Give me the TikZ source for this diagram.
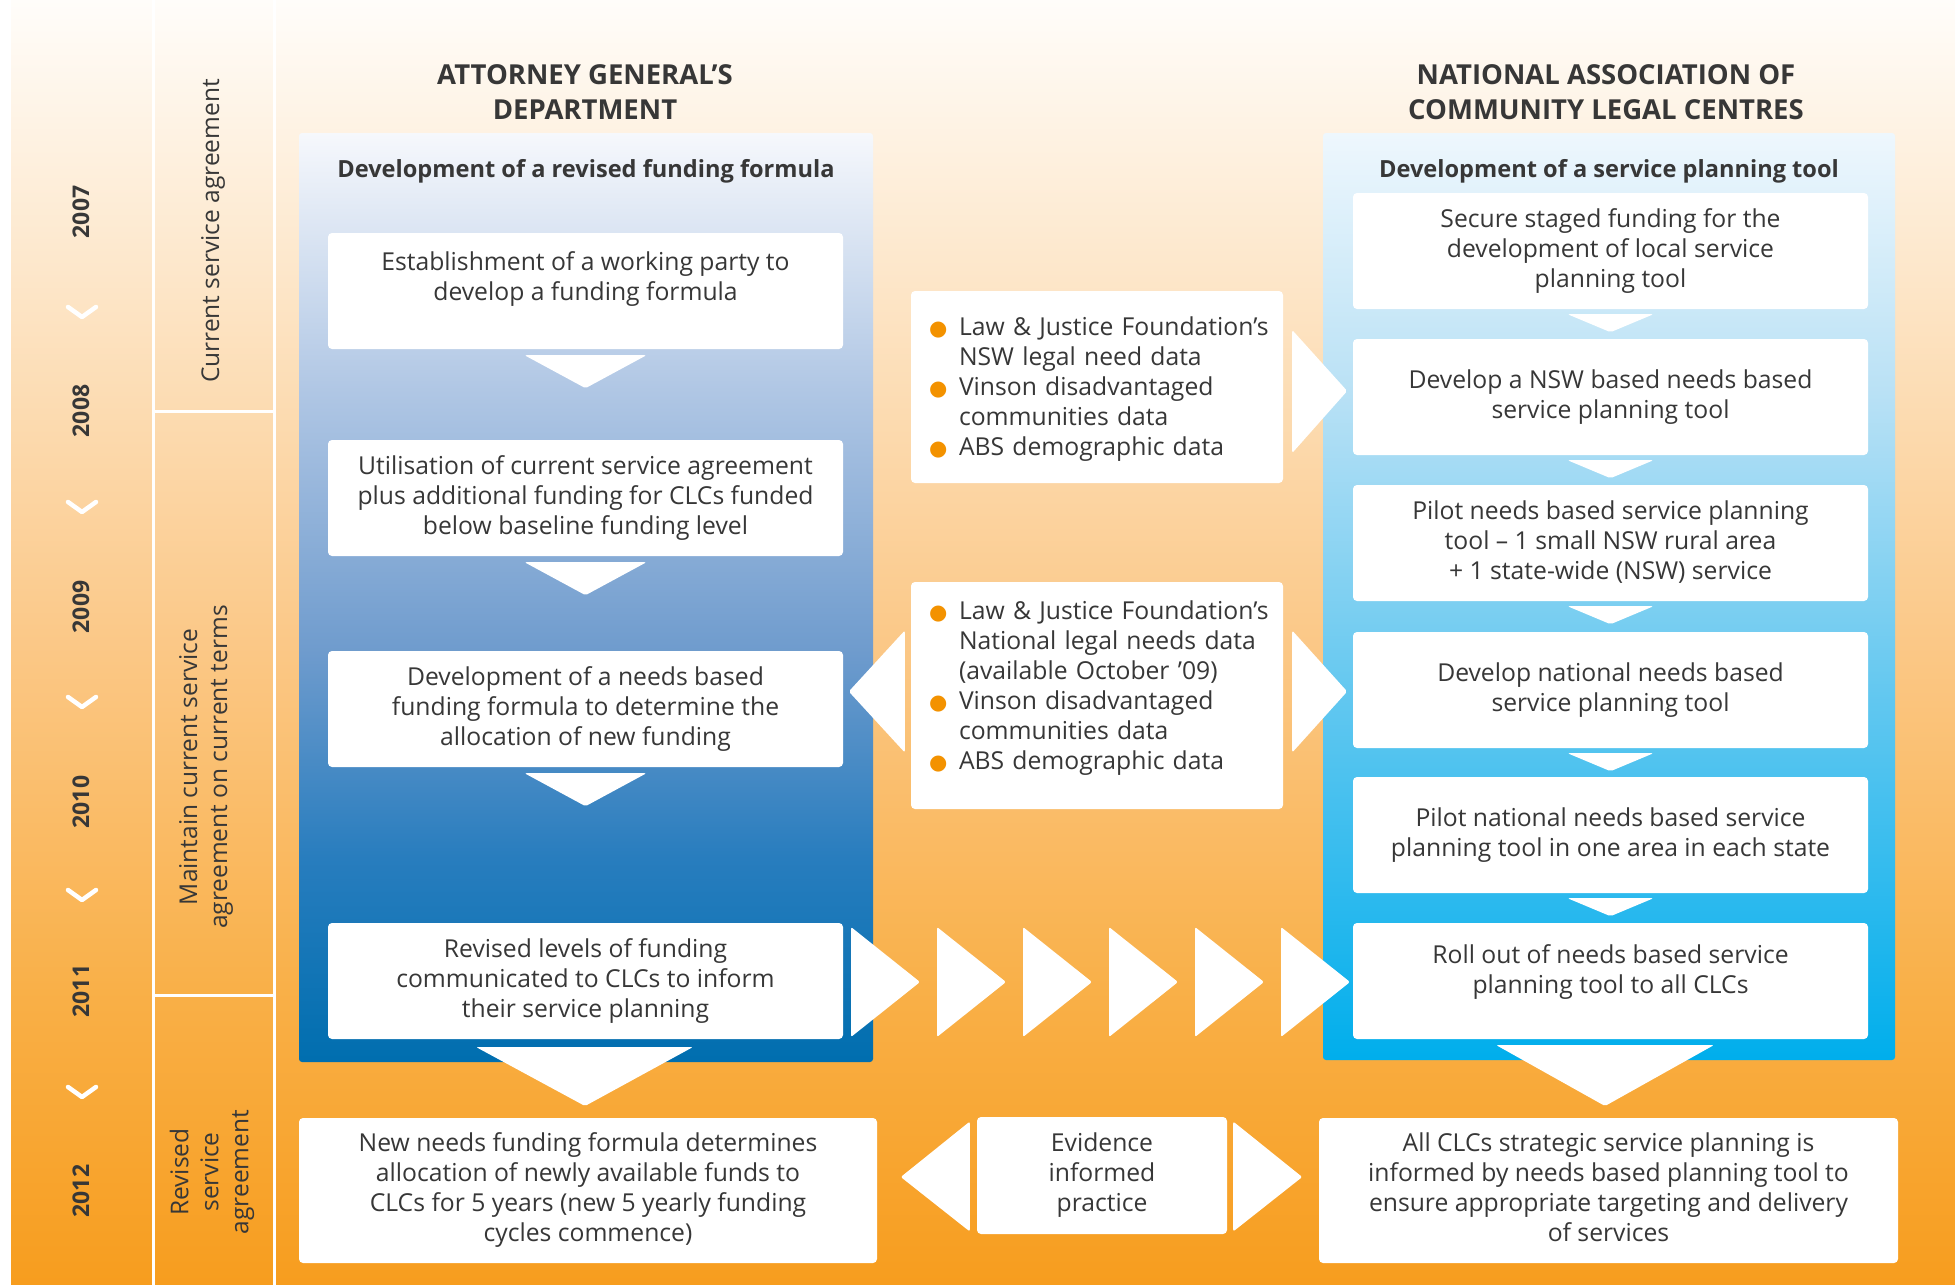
\documentclass[tikz,border=0pt]{standalone}
\usepackage{fontspec}
\setmainfont{Open Sans}
\newfontfamily\symf{DejaVu Sans}
\usetikzlibrary{calc}
\definecolor{txt}{RGB}{55,55,55}
\definecolor{bul}{RGB}{243,146,0}
\definecolor{bgA}{RGB}{255,253,250}
\definecolor{bgB}{RGB}{253,232,205}
\definecolor{bgC}{RGB}{251,200,135}
\definecolor{bgD}{RGB}{249,175,70}
\definecolor{bgE}{RGB}{247,157,30}
\definecolor{lbA}{RGB}{246,248,252}
\definecolor{lbB}{RGB}{175,198,228}
\definecolor{lbC}{RGB}{110,155,205}
\definecolor{lbD}{RGB}{40,125,190}
\definecolor{lbE}{RGB}{0,110,175}
\definecolor{rbA}{RGB}{238,247,253}
\definecolor{rbB}{RGB}{185,225,245}
\definecolor{rbC}{RGB}{100,200,240}
\definecolor{rbD}{RGB}{0,174,236}
\pgfdeclareverticalshading{bgsh}{100bp}{color(0bp)=(bgE); color(25bp)=(bgE); color(36bp)=(bgD); color(50bp)=(bgC); color(65bp)=(bgB); color(75bp)=(bgA); color(100bp)=(bgA)}
\pgfdeclareverticalshading{lsh}{100bp}{color(0bp)=(lbE); color(25bp)=(lbE); color(36bp)=(lbD); color(47bp)=(lbC); color(61bp)=(lbB); color(75bp)=(lbA); color(100bp)=(lbA)}
\pgfdeclareverticalshading{rsh}{100bp}{color(0bp)=(rbD); color(25bp)=(rbD); color(45bp)=(rbC); color(61bp)=(rbB); color(75bp)=(rbA); color(100bp)=(rbA)}
\newcommand{\txtsz}{\fontsize{24.7}{30}\selectfont}
\newcommand{\blt}{\makebox[48pt][l]{\hspace*{18pt}\textcolor{bul}{\symf\fontsize{21}{21}\selectfont ●}}}
\newcommand{\ind}{\hspace*{48pt}}
% centred / left text block with extra height (#1) and extra depth (#2)
\newcommand{\tx}[3]{\raisebox{0pt}[\dimexpr\height+#1\relax][\dimexpr\depth+#2\relax]{\begin{tabular}{@{}c@{}}#3\end{tabular}}}
\newcommand{\txl}[3]{\raisebox{0pt}[\dimexpr\height+#1\relax][\dimexpr\depth+#2\relax]{\begin{tabular}{@{}l@{}}#3\end{tabular}}}
\begin{document}
\begin{tikzpicture}[x=1pt,y=-1pt,
  box/.style={fill=white, rounded corners=4pt, inner sep=0pt, align=center, text=txt, font=\txtsz},
  stepbox/.style={box, minimum width=515pt, minimum height=116pt},
  databox/.style={box, align=left, inner xsep=0pt, text width=372pt},
  arr/.style={fill=white, rounded corners=2pt},
  yr/.style={rotate=90, text=txt, font=\fontsize{23}{26}\selectfont\bfseries},
  per/.style={rotate=90, text=txt, align=center, font=\fontsize{24.5}{30}\selectfont},
  head/.style={text=txt, align=center, font=\fontsize{27.5}{35}\selectfont\bfseries},
  ptitle/.style={text=txt, font=\fontsize{23.6}{28}\selectfont\bfseries},
  chev/.style={white, line width=4.5pt, line cap=round, line join=round},
  sep/.style={white, line width=3pt}]
\useasboundingbox (0,0) rectangle (1955,1285);
\fill[white] (0,0) rectangle (1955,1285);
\shade[shading=bgsh] (11,0) rectangle (1955,1285);

% timeline column
\draw[sep] (153,0) -- (153,1285);
\draw[sep] (274,0) -- (274,1285);
\draw[sep] (153,411) -- (274,411);
\draw[sep] (153,995) -- (274,995);

\node[yr] (y07) at (81,212) {2007};
\node[yr] (y08) at (81,411) {2008};
\node[yr] (y09) at (81,607) {2009};
\node[yr] (y10) at (81,802) {2010};
\node[yr] (y11) at (81,991) {2011};
\node[yr] (y12) at (81,1191) {2012};
\foreach \cy in {312,507,702,895,1092}
  \draw[chev] (68,\cy-5) -- (82,\cy+5) -- (96,\cy-5);

\node[per] (p1) at (213,231) {Current service agreement};
\node[per] (p2) at (206,767) {Maintain current service\\agreement on current terms};
\node[per] (p3) at (212,1172) {Revised\\service\\agreement};

% headers
\node[head] (hl) at (585,92) {ATTORNEY GENERAL’S\\DEPARTMENT};
\node[head] (hr) at (1606,92) {NATIONAL ASSOCIATION OF\\COMMUNITY LEGAL CENTRES};

% panels
\shade[shading=lsh, rounded corners=3pt] (299,133) rectangle (873,1062);
\shade[shading=rsh, rounded corners=3pt] (1323,133) rectangle (1895,1060);
\node[ptitle] (tl) at (586,171) {Development of a revised funding formula};
\node[ptitle] (tr) at (1609,171) {Development of a service planning tool};

% left boxes
\node[stepbox] (L1) at (585.5,291) {\tx{0pt}{24pt}{Establishment of a working party to\\develop a funding formula}};
\node[stepbox] (L2) at (585.5,498) {\tx{0pt}{0pt}{Utilisation of current service agreement\\plus additional funding for CLCs funded\\below baseline funding level}};
\node[stepbox] (L3) at (585.5,709) {\tx{0pt}{0pt}{Development of a needs based\\funding formula to determine the\\allocation of new funding}};
\node[stepbox] (L4) at (585.5,981) {\tx{0pt}{0pt}{Revised levels of funding\\communicated to CLCs to inform\\their service planning}};
\foreach \n in {L1,L2,L3}
  \fill[arr] ($(\n.south)+(-61,6)$) -- ($(\n.south)+(61,6)$) -- ($(\n.south)+(0,39)$) -- cycle;

% right boxes
\node[stepbox] (R1) at (1610.5,251) {\tx{0pt}{0pt}{Secure staged funding for the\\development of local service\\planning tool}};
\node[stepbox] (R2) at (1610.5,397) {\tx{0pt}{0pt}{Develop a NSW based needs based\\service planning tool}};
\node[stepbox] (R3) at (1610.5,543) {\tx{0pt}{0pt}{Pilot needs based service planning\\tool – 1 small NSW rural area\\+ 1 state-wide (NSW) service}};
\node[stepbox] (R4) at (1610.5,690) {\tx{0pt}{0pt}{Develop national needs based\\service planning tool}};
\node[stepbox] (R5) at (1610.5,835) {\tx{0pt}{0pt}{Pilot national needs based service\\planning tool in one area in each state}};
\node[stepbox] (R6) at (1610.5,981) {\tx{0pt}{17pt}{Roll out of needs based service\\planning tool to all CLCs}};
\foreach \n in {R1,R2,R3,R4,R5}
  \fill[arr] ($(\n.south)+(-43,5)$) -- ($(\n.south)+(43,5)$) -- ($(\n.south)+(0,23)$) -- cycle;

% middle data boxes
\node[databox, minimum height=192pt] (M1) at (1097,387)
  {\txl{4pt}{0pt}{\blt Law \& Justice Foundation’s\\\ind NSW legal need data\\\blt Vinson disadvantaged\\\ind communities data\\\blt ABS demographic data}};
\node[databox, minimum height=227pt] (M2) at (1097,695.5)
  {\txl{0pt}{15pt}{\blt Law \& Justice Foundation’s\\\ind National legal needs data\\\ind (available October ’09)\\\blt Vinson disadvantaged\\\ind communities data\\\blt ABS demographic data}};
\fill[arr] ($(M1.east)+(9,-57)$) -- ($(M1.east)+(64,4)$) -- ($(M1.east)+(9,66)$) -- cycle;
\fill[arr] ($(M2.east)+(9,-65)$) -- ($(M2.east)+(64,-4)$) -- ($(M2.east)+(9,57)$) -- cycle;
\fill[arr] ($(M2.west)+(-6,-65)$) -- ($(M2.west)+(-62,-4)$) -- ($(M2.west)+(-6,57)$) -- cycle;

% row of arrows from L4 to R6
\foreach \k in {0,...,5}
  \fill[arr] (851+86*\k,927) -- (920+86*\k,982) -- (851+86*\k,1037) -- cycle;

% big down arrows
\fill[arr] (476,1047) -- (693,1047) -- (585,1106) -- cycle;
\fill[arr] (1496,1045) -- (1714,1045) -- (1605,1106) -- cycle;

% bottom row
\node[box, minimum width=578pt, minimum height=145pt] (BL) at (588,1190.5)
  {\tx{0pt}{0pt}{New needs funding formula determines\\allocation of newly available funds to\\CLCs for 5 years (new 5 yearly funding\\cycles commence)}};
\node[box, minimum width=579pt, minimum height=145pt] (BR) at (1608.5,1190.5)
  {\tx{0pt}{0pt}{All CLCs strategic service planning is\\informed by needs based planning tool to\\ensure appropriate targeting and delivery\\of services}};
\node[box, minimum width=250pt, minimum height=117pt] (EV) at (1102,1175.5)
  {\tx{0pt}{0pt}{Evidence\\informed\\practice}};
\fill[arr] ($(EV.west)+(-7,-54)$) -- ($(EV.west)+(-76,1.5)$) -- ($(EV.west)+(-7,56)$) -- cycle;
\fill[arr] ($(EV.east)+(6,-54)$) -- ($(EV.east)+(75,1.5)$) -- ($(EV.east)+(6,56)$) -- cycle;
\end{tikzpicture}
\end{document}
